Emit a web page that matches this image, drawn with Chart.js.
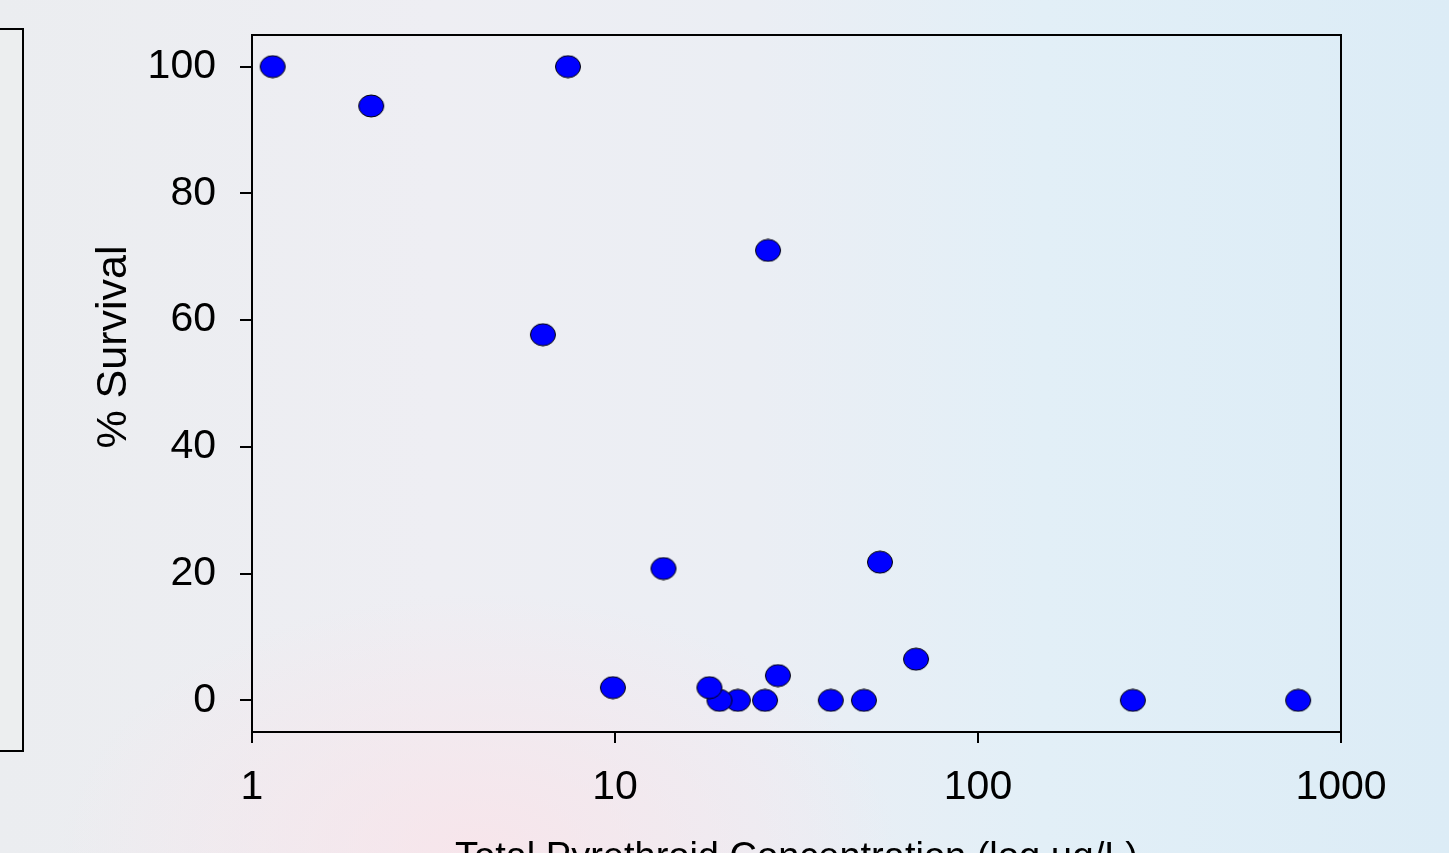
<!DOCTYPE html>
<html>
<head>
<meta charset="utf-8">
<script src="https://cdn.jsdelivr.net/npm/chart.js@4/dist/chart.umd.min.js"></script>
<style>
  html, body { margin: 0; padding: 0; width: 1449px; height: 853px; overflow: hidden; }
  body {
    position: relative;
    background:
      radial-gradient(ellipse 420px 260px at 33% 100%, rgba(250, 226, 232, 0.75), rgba(250, 226, 232, 0) 100%),
      linear-gradient(90deg, #ebedf0 0%, #eeeef3 30%, #ebeef4 52%, #e2eff7 72%, #dcecf6 100%);
  }
  #sidebox {
    position: absolute; left: -4px; top: 28px; width: 24px; height: 720px;
    border: 2px solid #000; background: #eceeef;
  }
  #chart { position: absolute; left: 0; top: 0; }
</style>
</head>
<body>
<div id="sidebox"></div>
<canvas id="chart" width="1449" height="890"></canvas>
<script>
"use strict";

// ── Data ─────────────────────────────────────────────────────────────────
const concentration = [1.14, 2.13, 7.42, 6.33, 26.4, 13.6, 53.7, 67.5, 9.87,
                       21.8, 19.4, 18.2, 25.9, 28.1, 39.3, 48.5, 267, 762];
const survival      = [100, 93.8, 100, 57.7, 71.0, 20.8, 21.8, 6.5, 2.0,
                       0, 0, 2.0, 0, 3.9, 0, 0, 0, 0];
const xTicks = [1, 10, 100, 1000];
const yTicks = [0, 20, 40, 60, 80, 100];
const xTitle = "Total Pyrethroid Concentration (log µg/L)";
const yTitle = "% Survival";

// ── Layout ───────────────────────────────────────────────────────────────
const H = 890;
const PLOT = { left: 252, right: 1341, top: 35, bottom: 732 };
const tickFont = { family: "'Liberation Sans', Arial, sans-serif", size: 41 };

// ellipse marker (slightly wider than tall, like the original)
function ellipseMarker() {
  const c = document.createElement("canvas");
  c.width = 28; c.height = 24;
  const g = c.getContext("2d");
  g.beginPath();
  g.ellipse(14, 12, 12.5, 11, 0, 0, Math.PI * 2);
  g.fillStyle = "#0000ff";
  g.fill();
  g.lineWidth = 1;
  g.strokeStyle = "#000";
  g.stroke();
  return c;
}

// frame + axis titles
const decor = {
  id: "decor",
  afterDraw(chart) {
    const { ctx, chartArea: a } = chart;
    ctx.save();
    ctx.strokeStyle = "#000";
    ctx.lineWidth = 2;
    ctx.strokeRect(a.left, a.top, a.right - a.left, a.bottom - a.top);

    ctx.fillStyle = "#000";
    ctx.textAlign = "center";
    ctx.textBaseline = "alphabetic";
    ctx.font = "38px 'Liberation Sans', Arial, sans-serif";
    ctx.fillText(xTitle, (a.left + a.right) / 2, 869);

    ctx.translate(126, 347);
    ctx.rotate(-Math.PI / 2);
    ctx.font = "43px 'Liberation Sans', Arial, sans-serif";
    ctx.fillText(yTitle, 0, 0);
    ctx.restore();
  },
};

new Chart(document.getElementById("chart"), {
  type: "scatter",
  data: {
    datasets: [{
      data: concentration.map((x, i) => ({ x, y: survival[i] })),
      pointStyle: ellipseMarker(),
      pointRadius: 11,
      pointHoverRadius: 11,
    }],
  },
  options: {
    responsive: false,
    animation: false,
    events: [],
    layout: { padding: { top: PLOT.top, right: 1449 - PLOT.right, left: 0, bottom: 0 } },
    plugins: { legend: { display: false }, tooltip: { enabled: false } },
    scales: {
      x: {
        type: "logarithmic",
        min: 1, max: 1000,
        afterBuildTicks: (s) => { s.ticks = xTicks.map((v) => ({ value: v })); },
        afterFit: (s) => { s.height = H - PLOT.bottom; s.paddingLeft = 0; s.paddingRight = 0; },
        ticks: { callback: (v) => String(v), font: tickFont, color: "#000", padding: 20, maxRotation: 0, autoSkip: false },
        grid: { drawOnChartArea: false, drawTicks: true, tickLength: 11, color: "#000", lineWidth: 2 },
        border: { display: true, color: "#000", width: 2 },
      },
      y: {
        min: -5, max: 105,
        afterBuildTicks: (s) => { s.ticks = yTicks.map((v) => ({ value: v })); },
        afterFit: (s) => { s.width = PLOT.left; s.paddingTop = 0; s.paddingBottom = 0; },
        ticks: { font: tickFont, color: "#000", padding: 24 },
        grid: { drawOnChartArea: false, drawTicks: true, tickLength: 12, color: "#000", lineWidth: 2 },
        border: { display: true, color: "#000", width: 2 },
      },
    },
  },
  plugins: [decor],
});
</script>
</body>
</html>
